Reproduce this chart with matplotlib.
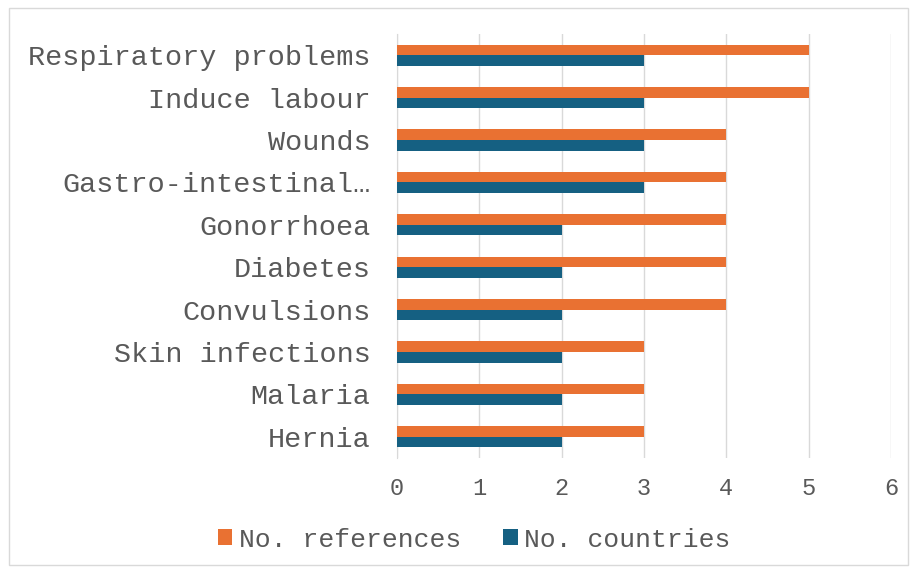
import matplotlib.pyplot as plt
import numpy as np
from matplotlib.patches import Rectangle

categories = ["Hernia", "Malaria", "Skin infections", "Convulsions", "Diabetes",
              "Gonorrhoea", "Gastro-intestinal\u2026", "Wounds", "Induce labour",
              "Respiratory problems"]
n_references = [3, 3, 3, 4, 4, 4, 4, 4, 5, 5]
n_countries = [2, 2, 2, 2, 2, 2, 3, 3, 3, 3]
xticks = [0, 1, 2, 3, 4, 5, 6]

orange = "#E97132"
blue = "#156082"
textc = "#595959"

plt.rcParams['font.family'] = ['Liberation Mono', 'DejaVu Sans Mono']

fig = plt.figure(figsize=(9.17, 5.73), dpi=100)
ax = fig.add_axes([0.4329, 0.2007, 0.5388, 0.74])

y = np.arange(len(categories))
h = 0.25
ax.barh(y + h / 2, n_references, height=h, color=orange, label="No. references", zorder=3)
ax.barh(y - h / 2, n_countries, height=h, color=blue, label="No. countries", zorder=3)

ax.set_xlim(0, 6)
ax.set_ylim(-0.5, len(categories) - 0.5)
ax.set_xticks(xticks)
ax.set_yticks(y)
ax.set_yticklabels(categories)
ax.tick_params(axis='y', length=0, pad=19, labelsize=20.5, labelcolor=textc)
ax.tick_params(axis='x', length=0, pad=14, labelsize=17, labelcolor=textc)
ax.grid(axis='x', color="#D9D9D9", linewidth=1, zorder=0)
for s in ["top", "right", "bottom"]:
    ax.spines[s].set_visible(False)
ax.spines["left"].set_color("#D9D9D9")

leg = fig.legend(loc="center", bbox_to_anchor=(0.517, 0.058), ncol=2, frameon=False,
                 fontsize=19, handlelength=0.55, handleheight=0.55, handletextpad=0.25,
                 columnspacing=1.6, labelcolor=textc)

fig.patches.append(Rectangle((0.01, 0.014), 0.98, 0.972, transform=fig.transFigure,
                             fill=False, edgecolor="#D9D9D9", linewidth=1))

fig.savefig("out.png", dpi=100)
